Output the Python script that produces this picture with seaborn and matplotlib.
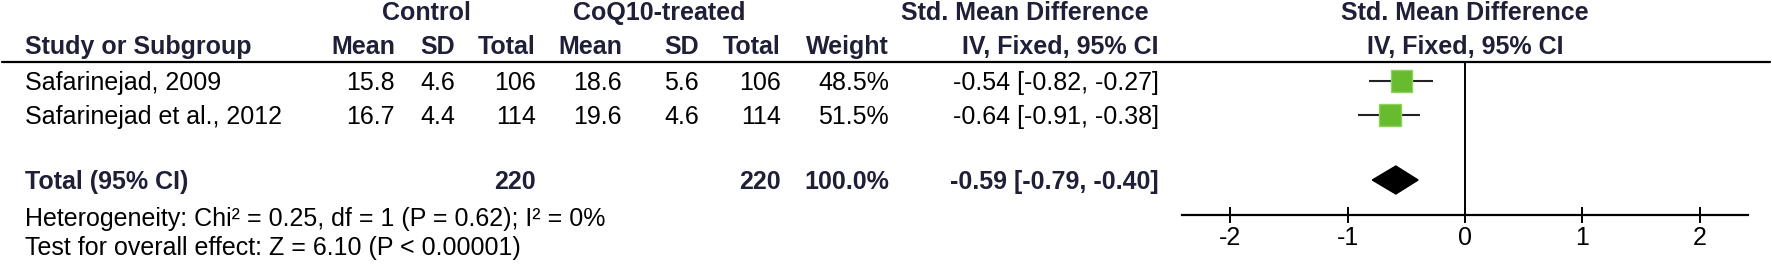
import matplotlib
matplotlib.use("Agg")
import matplotlib.pyplot as plt
import pandas as pd
import seaborn as sns

# study level data
studies = ["Safarinejad, 2009", "Safarinejad et al., 2012"]
ctrl_mean = [15.8, 16.7]
ctrl_sd = [4.6, 4.4]
ctrl_n = [106, 114]
trt_mean = [18.6, 19.6]
trt_sd = [5.6, 4.6]
trt_n = [106, 114]
weights = [48.5, 51.5]
smd = [-0.54, -0.64]
ci_lo = [-0.82, -0.91]
ci_hi = [-0.27, -0.38]

# pooled result
total_ctrl_n = 220
total_trt_n = 220
total_weight = 100.0
total_smd = -0.59
total_lo = -0.79
total_hi = -0.40
heterogeneity = "Heterogeneity: Chi\u00b2 = 0.25, df = 1 (P = 0.62); I\u00b2 = 0%"
overall = "Test for overall effect: Z = 6.10 (P < 0.00001)"

ticks = [-2, -1, 0, 1, 2]

sns.set_style("white")
plt.rcParams["font.family"] = ["Liberation Sans", "DejaVu Sans"]

W, H = 1772, 270
fig = plt.figure(figsize=(W / 100, H / 100), dpi=100)

# text layer in pixel coords
ax_t = fig.add_axes([0, 0, 1, 1])
ax_t.set_xlim(0, W)
ax_t.set_ylim(H, 0)
ax_t.axis("off")

hdr = dict(fontweight="bold", fontsize=18, color="#1f1f38", va="center")
reg = dict(fontsize=18, color="black", va="center")

# headers
ax_t.text(426, 13, "Control", ha="center", **hdr)
ax_t.text(659, 13, "CoQ10-treated", ha="center", **hdr)
ax_t.text(1025, 13, "Std. Mean Difference", ha="center", **hdr)
ax_t.text(1465, 13, "Std. Mean Difference", ha="center", **hdr)
ax_t.text(25, 47, "Study or Subgroup", ha="left", **hdr)
col_right = [395, 455, 536, 622, 699, 781, 889]
for x, lab in zip(col_right, ["Mean", "SD", "Total", "Mean", "SD", "Total", "Weight"]):
    ax_t.text(x, 47, lab, ha="right", **hdr)
ax_t.text(1159, 47, "IV, Fixed, 95% CI", ha="right", **hdr)
ax_t.text(1465, 47, "IV, Fixed, 95% CI", ha="center", **hdr)
ax_t.plot([2, 1770], [62, 62], color="black", lw=1.6)

row_y = [81, 115]
total_y = 180
for i, name in enumerate(studies):
    y = row_y[i] + 2
    ax_t.text(25, y, name, ha="left", **reg)
    vals = [f"{ctrl_mean[i]:.1f}", f"{ctrl_sd[i]:.1f}", f"{ctrl_n[i]}",
            f"{trt_mean[i]:.1f}", f"{trt_sd[i]:.1f}", f"{trt_n[i]}", f"{weights[i]:.1f}%"]
    for x, v in zip(col_right, vals):
        ax_t.text(x, y, v, ha="right", **reg)
    ax_t.text(1159, y, f"{smd[i]:.2f} [{ci_lo[i]:.2f}, {ci_hi[i]:.2f}]", ha="right", **reg)

ax_t.text(25, total_y + 2, "Total (95% CI)", ha="left", **hdr)
ax_t.text(col_right[2], total_y + 2, f"{total_ctrl_n}", ha="right", **hdr)
ax_t.text(col_right[5], total_y + 2, f"{total_trt_n}", ha="right", **hdr)
ax_t.text(col_right[6], total_y + 2, f"{total_weight:.1f}%", ha="right", **hdr)
ax_t.text(1159, total_y + 2, f"{total_smd:.2f} [{total_lo:.2f}, {total_hi:.2f}]",
          ha="right", **hdr)
ax_t.text(25, 219, heterogeneity, ha="left", **reg)
ax_t.text(25, 248, overall, ha="left", **reg)

# forest panel, x axis in SMD units, y in pixel rows
x0, x1, y_top, y_axis = 1182, 1748, 62, 215
ax_f = fig.add_axes([x0 / W, 1 - y_axis / H, (x1 - x0) / W, (y_axis - y_top) / H])
ax_f.patch.set_alpha(0)
ax_f.set_xlim(-2.413, 2.413)
ax_f.set_ylim(y_axis, y_top)

df = pd.DataFrame({"smd": smd, "lo": ci_lo, "hi": ci_hi, "y": row_y, "w": weights})
ax_f.hlines(df["y"], df["lo"], df["hi"], color="#222222", lw=1.5, zorder=2)
sns.scatterplot(data=df, x="smd", y="y", marker="s", size="w", sizes=(235, 265),
                color="#66bb2e", edgecolor="#8fd35a", linewidth=1, legend=False,
                zorder=3, ax=ax_f)
half = 14
ax_f.fill([total_lo, total_smd, total_hi, total_smd],
          [total_y, total_y - half, total_y, total_y + half], color="black", zorder=3)
ax_f.axvline(0, color="black", lw=1.4, zorder=1)

for s in ["top", "right", "left"]:
    ax_f.spines[s].set_visible(False)
ax_f.spines["bottom"].set_linewidth(1.6)
ax_f.spines["bottom"].set_color("black")
ax_f.set_xticks(ticks)
ax_f.set_xticklabels([str(t) for t in ticks])
ax_f.tick_params(axis="x", direction="inout", length=12, width=1.4, labelsize=18,
                 pad=2, bottom=True, colors="black")
ax_f.set_yticks([])
ax_f.set_xlabel("")
ax_f.set_ylabel("")

fig.savefig("out.png", dpi=100)
